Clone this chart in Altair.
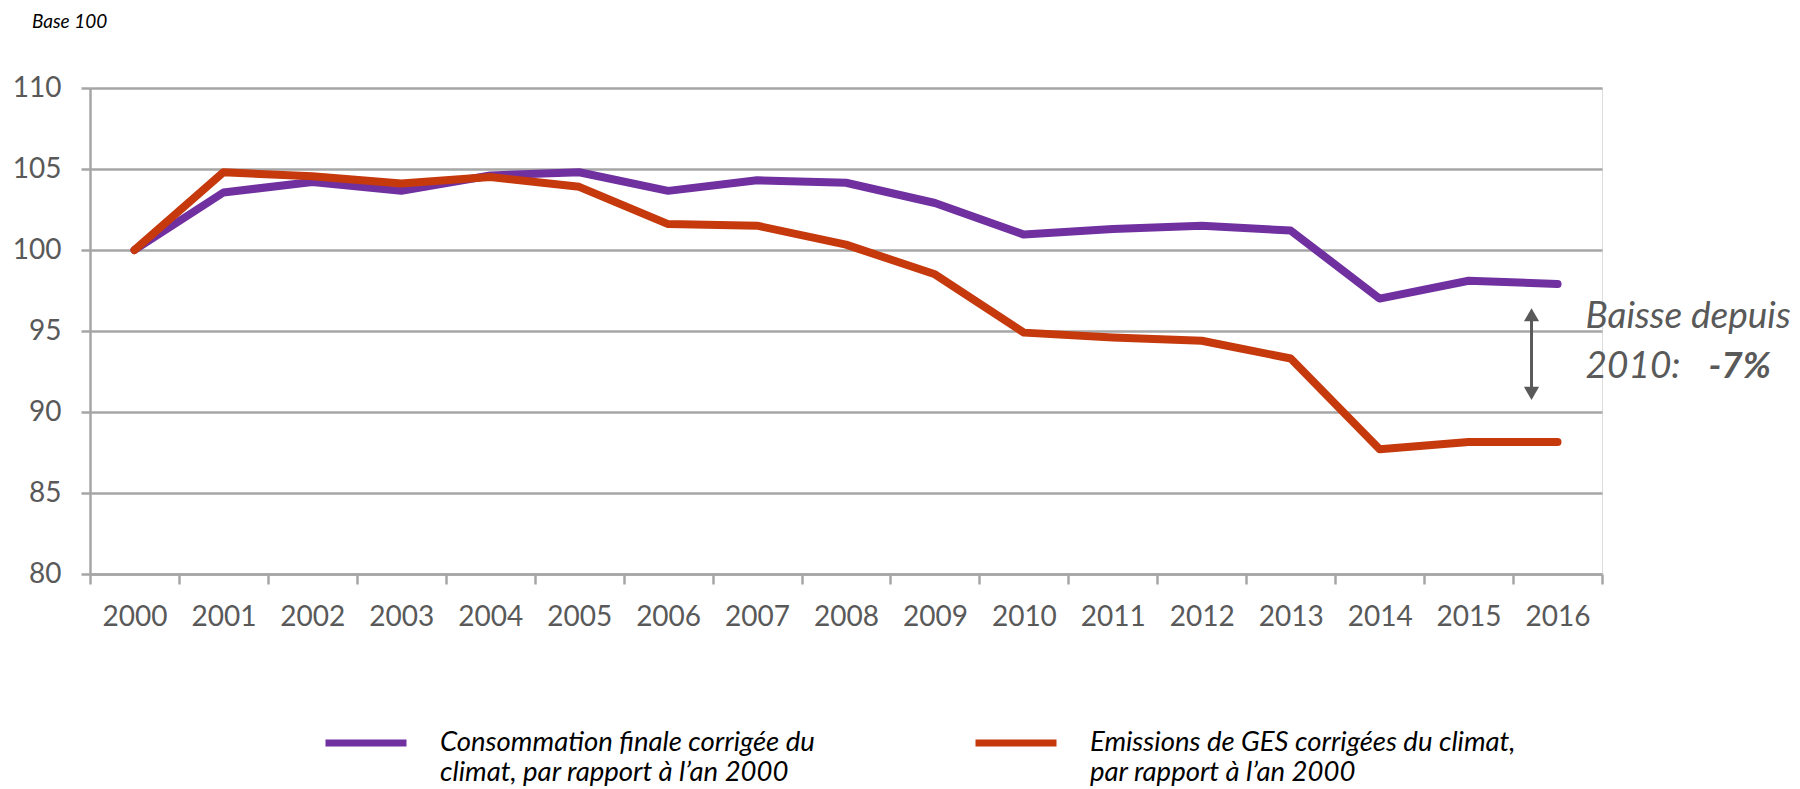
import altair as alt
import pandas as pd

# ---- data ----
years = ["2000", "2001", "2002", "2003", "2004", "2005", "2006", "2007", "2008",
         "2009", "2010", "2011", "2012", "2013", "2014", "2015", "2016"]
conso = [100, 103.55, 104.2, 103.65, 104.6, 104.8, 103.65, 104.3, 104.15,
         102.9, 100.95, 101.3, 101.5, 101.2, 97.0, 98.1, 97.9]
ges = [100, 104.8, 104.55, 104.1, 104.5, 103.9, 101.6, 101.5, 100.33,
       98.5, 94.9, 94.6, 94.4, 93.3, 87.7, 88.15, 88.15]
series_names = ["Consommation finale corrigée du|climat, par rapport à l’an 2000",
                "Emissions de GES corrigées du climat,|par rapport à l’an 2000"]
series_colors = ["#7030A0", "#C5390D"]
y_ticks = [80, 85, 90, 95, 100, 105, 110]

ann_line1 = ["Baisse depuis"]
ann_line2a = ["2010:"]
ann_line2b = ["-7%"]
ann_year = ["2016"]
ann_y1 = [95.87]
ann_y2 = [92.8]
arrow_top = [96.0]
arrow_bottom = [91.15]

FONT = "Lato"
GRID = "#A6A6A6"
TXT = "#595959"

rows = []
for name, vals in zip(series_names, [conso, ges]):
    for yr, v in zip(years, vals):
        rows.append({"year": yr, "value": v, "series": name})
df = pd.DataFrame(rows)

xscale = alt.Scale(type="band", paddingInner=0, paddingOuter=0)
yscale = alt.Scale(domain=[80, 110], nice=False, zero=False)

def xenc(axis=None):
    if axis is None:
        return alt.X("year:O", sort=years, scale=xscale, bandPosition=0.5)
    return alt.X("year:O", sort=years, scale=xscale, bandPosition=0.5, axis=axis)

x_axis = alt.Axis(title=None, labelAngle=0, tickBand="extent", grid=False,
                  domainColor=GRID, domainWidth=2.5, tickColor=GRID, tickWidth=2.5,
                  tickSize=10, labelFont=FONT, labelFontSize=28, labelColor=TXT,
                  labelPadding=19)
y_axis = alt.Axis(title=None, values=y_ticks, grid=True, gridColor=GRID, gridWidth=2.5,
                  domainColor=GRID, domainWidth=2.5, tickColor=GRID, tickWidth=2.5,
                  tickSize=9, labelFont=FONT, labelFontSize=28, labelColor=TXT,
                  labelPadding=20)

lines = alt.Chart(df).mark_line(strokeWidth=8, strokeCap="round", strokeJoin="round").encode(
    x=xenc(x_axis),
    y=alt.Y("value:Q", scale=yscale, axis=y_axis),
    color=alt.Color("series:N",
                    scale=alt.Scale(domain=series_names, range=series_colors),
                    legend=alt.Legend(title=None, orient="none", legendX=232, legendY=611,
                                      direction="horizontal", columns=2,
                                      symbolType="stroke", symbolSize=6561,
                                      symbolStrokeWidth=7, labelExpr="split(datum.label, '|')",
                                      labelFont=FONT, labelFontSize=27.5, labelFontStyle="italic",
                                      labelColor="black", labelLimit=900, labelOffset=30,
                                      columnPadding=146, padding=0)),
    order=alt.Order("series:N"),
)

t1 = alt.Chart(pd.DataFrame({"year": ann_year, "y": ann_y1, "t": ann_line1})).mark_text(
    align="left", baseline="middle", dx=28, font=FONT, fontSize=37, fontStyle="italic", color=TXT
).encode(x=xenc(), y=alt.Y("y:Q", scale=yscale), text="t:N")
t2 = alt.Chart(pd.DataFrame({"year": ann_year, "y": ann_y2, "t": ann_line2a})).mark_text(
    align="left", baseline="middle", dx=28, font=FONT, fontSize=37, fontStyle="italic", color=TXT
).encode(x=xenc(), y=alt.Y("y:Q", scale=yscale), text="t:N")
t3 = alt.Chart(pd.DataFrame({"year": ann_year, "y": ann_y2, "t": ann_line2b})).mark_text(
    align="left", baseline="middle", dx=151, font=FONT, fontSize=37, fontStyle="italic",
    fontWeight="bold", color=TXT
).encode(x=xenc(), y=alt.Y("y:Q", scale=yscale), text="t:N")

arrow_df = pd.DataFrame({"year": ann_year, "top": arrow_top, "bottom": arrow_bottom})
shaft = alt.Chart(arrow_df).mark_rule(xOffset=-26, strokeWidth=3, color=TXT).encode(
    x=xenc(), y=alt.Y("top:Q", scale=yscale), y2="bottom:Q")
head_up = alt.Chart(arrow_df).mark_point(shape="triangle-up", filled=True, size=230,
                                         opacity=1, xOffset=-26, color=TXT).encode(
    x=xenc(), y=alt.Y("top:Q", scale=yscale))
head_down = alt.Chart(arrow_df).mark_point(shape="triangle-down", filled=True, size=230,
                                           opacity=1, xOffset=-26, color=TXT).encode(
    x=xenc(), y=alt.Y("bottom:Q", scale=yscale))

chart = alt.layer(lines, shaft, head_up, head_down, t1, t2, t3).properties(
    width=1512, height=486,
    autosize=alt.AutoSizeParams(type="none"),
    padding={"left": 82, "top": 80, "right": 190, "bottom": 215},
    title=alt.TitleParams("Base 100", anchor="start", frame="group", font=FONT,
                          fontSize=19, fontStyle="italic", fontWeight="normal",
                          color="black", dx=-58, offset=42),
).configure_view(stroke=None).configure(background="white")

chart.save("out.html", embed_options={"renderer": "svg", "actions": False})
